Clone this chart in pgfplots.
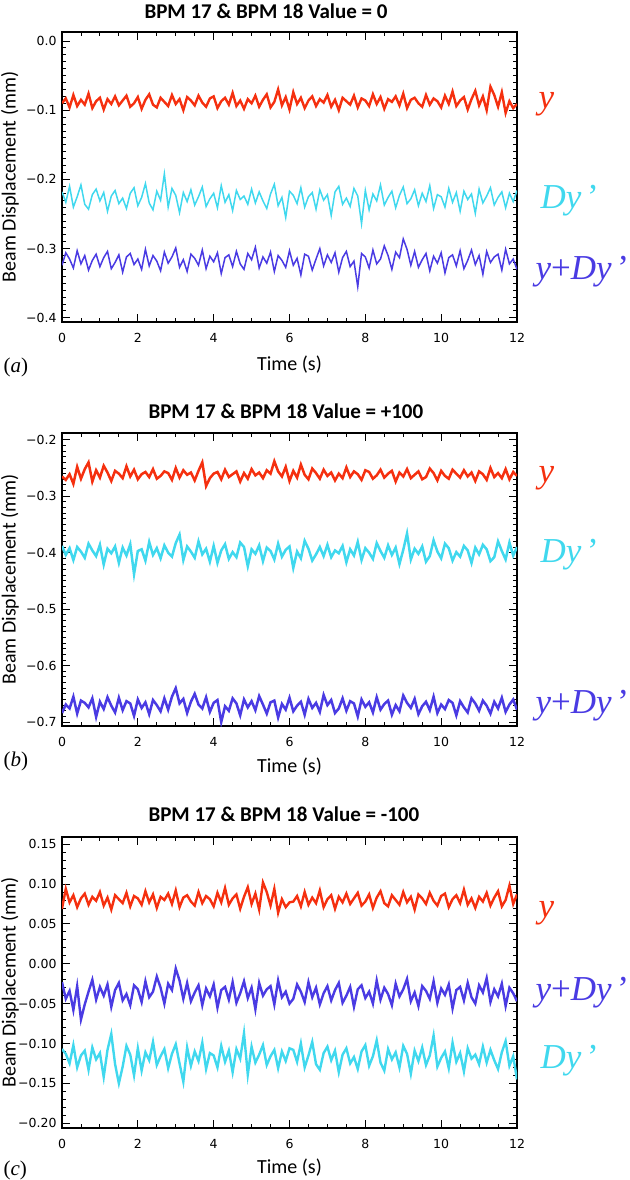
\documentclass[border=0pt]{standalone}
\usepackage{pgfplots}
\pgfplotsset{compat=1.18}
\usepackage{pgfplotstable}
\usepackage{fontspec}
\setmainfont{Liberation Serif}
\newfontfamily\tickfont{DejaVu Sans}
\newfontfamily\calfont{Carlito}
\definecolor{cred}{HTML}{F5300F}
\definecolor{ccyan}{HTML}{40D8EE}
\definecolor{cblue}{HTML}{4A3BE3}

\pgfplotstableread{
t y dy ydy
0.0 -0.090 -0.218 -0.324
0.1 -0.083 -0.233 -0.306
0.2 -0.096 -0.210 -0.315
0.3 -0.078 -0.240 -0.328
0.4 -0.094 -0.225 -0.303
0.5 -0.085 -0.208 -0.322
0.6 -0.092 -0.236 -0.310
0.7 -0.076 -0.243 -0.331
0.8 -0.097 -0.222 -0.317
0.9 -0.087 -0.214 -0.308
1.0 -0.082 -0.231 -0.326
1.1 -0.099 -0.219 -0.313
1.2 -0.084 -0.246 -0.304
1.3 -0.091 -0.224 -0.329
1.4 -0.080 -0.216 -0.320
1.5 -0.093 -0.235 -0.309
1.6 -0.086 -0.227 -0.334
1.7 -0.079 -0.242 -0.312
1.8 -0.095 -0.220 -0.307
1.9 -0.090 -0.212 -0.323
2.0 -0.081 -0.238 -0.315
2.1 -0.098 -0.226 -0.330
2.2 -0.085 -0.206 -0.301
2.3 -0.077 -0.234 -0.325
2.4 -0.092 -0.244 -0.310
2.5 -0.096 -0.217 -0.318
2.6 -0.082 -0.230 -0.332
2.7 -0.088 -0.192 -0.305
2.8 -0.094 -0.240 -0.321
2.9 -0.078 -0.213 -0.312
3.0 -0.091 -0.223 -0.299
3.1 -0.084 -0.248 -0.327
3.2 -0.100 -0.219 -0.316
3.3 -0.081 -0.232 -0.333
3.4 -0.086 -0.215 -0.308
3.5 -0.093 -0.237 -0.314
3.6 -0.079 -0.225 -0.324
3.7 -0.089 -0.211 -0.302
3.8 -0.095 -0.239 -0.329
3.9 -0.083 -0.228 -0.311
4.0 -0.080 -0.220 -0.319
4.1 -0.097 -0.241 -0.306
4.2 -0.087 -0.209 -0.336
4.3 -0.082 -0.233 -0.313
4.4 -0.092 -0.222 -0.309
4.5 -0.075 -0.245 -0.326
4.6 -0.094 -0.216 -0.304
4.7 -0.086 -0.229 -0.322
4.8 -0.098 -0.224 -0.330
4.9 -0.084 -0.236 -0.307
5.0 -0.090 -0.214 -0.316
5.1 -0.079 -0.234 -0.298
5.2 -0.095 -0.218 -0.328
5.3 -0.085 -0.231 -0.312
5.4 -0.077 -0.242 -0.321
5.5 -0.096 -0.221 -0.305
5.6 -0.088 -0.207 -0.333
5.7 -0.070 -0.238 -0.310
5.8 -0.093 -0.226 -0.317
5.9 -0.081 -0.255 -0.327
6.0 -0.099 -0.217 -0.303
6.1 -0.074 -0.223 -0.324
6.2 -0.091 -0.235 -0.314
6.3 -0.082 -0.212 -0.338
6.4 -0.097 -0.240 -0.308
6.5 -0.086 -0.225 -0.311
6.6 -0.080 -0.219 -0.331
6.7 -0.094 -0.243 -0.315
6.8 -0.084 -0.215 -0.300
6.9 -0.089 -0.230 -0.325
7.0 -0.078 -0.222 -0.309
7.1 -0.095 -0.252 -0.320
7.2 -0.085 -0.218 -0.306
7.3 -0.100 -0.210 -0.334
7.4 -0.082 -0.236 -0.313
7.5 -0.087 -0.227 -0.304
7.6 -0.092 -0.239 -0.326
7.7 -0.079 -0.213 -0.318
7.8 -0.096 -0.224 -0.355
7.9 -0.083 -0.264 -0.307
8.0 -0.086 -0.216 -0.312
8.1 -0.094 -0.244 -0.328
8.2 -0.077 -0.221 -0.302
8.3 -0.091 -0.231 -0.322
8.4 -0.081 -0.208 -0.315
8.5 -0.098 -0.237 -0.296
8.6 -0.084 -0.226 -0.310
8.7 -0.088 -0.217 -0.330
8.8 -0.080 -0.241 -0.305
8.9 -0.093 -0.223 -0.313
9.0 -0.076 -0.211 -0.286
9.1 -0.097 -0.235 -0.301
9.2 -0.085 -0.228 -0.324
9.3 -0.082 -0.215 -0.304
9.4 -0.090 -0.238 -0.327
9.5 -0.095 -0.220 -0.316
9.6 -0.078 -0.232 -0.307
9.7 -0.092 -0.209 -0.332
9.8 -0.083 -0.242 -0.311
9.9 -0.087 -0.222 -0.321
10.0 -0.096 -0.225 -0.306
10.1 -0.079 -0.240 -0.335
10.2 -0.091 -0.213 -0.313
10.3 -0.073 -0.233 -0.309
10.4 -0.094 -0.219 -0.325
10.5 -0.086 -0.246 -0.303
10.6 -0.081 -0.217 -0.329
10.7 -0.099 -0.229 -0.317
10.8 -0.084 -0.221 -0.302
10.9 -0.072 -0.249 -0.323
11.0 -0.093 -0.214 -0.310
11.1 -0.080 -0.234 -0.337
11.2 -0.100 -0.224 -0.304
11.3 -0.066 -0.212 -0.320
11.4 -0.078 -0.237 -0.312
11.5 -0.095 -0.226 -0.308
11.6 -0.074 -0.218 -0.331
11.7 -0.104 -0.241 -0.301
11.8 -0.087 -0.220 -0.322
11.9 -0.097 -0.232 -0.315
12.0 -0.091 -0.216 -0.330
}\tabA

\pgfplotstableread{
t y dy ydy
0.0 -0.265 -0.388 -0.684
0.1 -0.271 -0.404 -0.669
0.2 -0.261 -0.392 -0.676
0.3 -0.278 -0.413 -0.655
0.4 -0.248 -0.390 -0.685
0.5 -0.269 -0.398 -0.662
0.6 -0.252 -0.409 -0.666
0.7 -0.240 -0.384 -0.674
0.8 -0.274 -0.396 -0.658
0.9 -0.254 -0.406 -0.691
1.0 -0.267 -0.386 -0.664
1.1 -0.246 -0.421 -0.677
1.2 -0.258 -0.393 -0.656
1.3 -0.273 -0.401 -0.671
1.4 -0.255 -0.389 -0.683
1.5 -0.260 -0.418 -0.657
1.6 -0.268 -0.391 -0.679
1.7 -0.247 -0.405 -0.663
1.8 -0.265 -0.385 -0.667
1.9 -0.253 -0.438 -0.689
2.0 -0.270 -0.397 -0.660
2.1 -0.261 -0.394 -0.675
2.2 -0.257 -0.414 -0.665
2.3 -0.266 -0.381 -0.686
2.4 -0.252 -0.404 -0.661
2.5 -0.269 -0.392 -0.670
2.6 -0.264 -0.410 -0.681
2.7 -0.256 -0.387 -0.658
2.8 -0.259 -0.400 -0.678
2.9 -0.271 -0.407 -0.655
3.0 -0.250 -0.383 -0.640
3.1 -0.267 -0.368 -0.667
3.2 -0.254 -0.413 -0.659
3.3 -0.262 -0.389 -0.684
3.4 -0.258 -0.398 -0.664
3.5 -0.272 -0.409 -0.650
3.6 -0.255 -0.380 -0.669
3.7 -0.240 -0.403 -0.676
3.8 -0.282 -0.393 -0.656
3.9 -0.268 -0.416 -0.682
4.0 -0.260 -0.388 -0.666
4.1 -0.257 -0.418 -0.661
4.2 -0.270 -0.396 -0.700
4.3 -0.253 -0.385 -0.672
4.4 -0.266 -0.411 -0.680
4.5 -0.261 -0.399 -0.658
4.6 -0.256 -0.408 -0.667
4.7 -0.274 -0.382 -0.688
4.8 -0.259 -0.390 -0.660
4.9 -0.269 -0.424 -0.674
5.0 -0.252 -0.394 -0.663
5.1 -0.263 -0.402 -0.679
5.2 -0.258 -0.387 -0.654
5.3 -0.268 -0.415 -0.669
5.4 -0.254 -0.391 -0.685
5.5 -0.260 -0.397 -0.665
5.6 -0.238 -0.412 -0.662
5.7 -0.256 -0.384 -0.692
5.8 -0.265 -0.407 -0.668
5.9 -0.248 -0.395 -0.678
6.0 -0.273 -0.389 -0.657
6.1 -0.255 -0.427 -0.681
6.2 -0.267 -0.398 -0.671
6.3 -0.244 -0.410 -0.664
6.4 -0.262 -0.379 -0.687
6.5 -0.270 -0.393 -0.659
6.6 -0.251 -0.414 -0.675
6.7 -0.259 -0.403 -0.666
6.8 -0.269 -0.390 -0.682
6.9 -0.253 -0.406 -0.652
7.0 -0.264 -0.386 -0.670
7.1 -0.258 -0.408 -0.661
7.2 -0.272 -0.396 -0.684
7.3 -0.260 -0.401 -0.676
7.4 -0.268 -0.388 -0.658
7.5 -0.249 -0.417 -0.680
7.6 -0.266 -0.394 -0.663
7.7 -0.256 -0.405 -0.667
7.8 -0.261 -0.381 -0.690
7.9 -0.271 -0.413 -0.660
8.0 -0.254 -0.392 -0.673
8.1 -0.257 -0.400 -0.665
8.2 -0.269 -0.411 -0.683
8.3 -0.263 -0.383 -0.656
8.4 -0.253 -0.397 -0.678
8.5 -0.267 -0.409 -0.668
8.6 -0.260 -0.387 -0.662
8.7 -0.255 -0.404 -0.687
8.8 -0.274 -0.391 -0.670
8.9 -0.258 -0.420 -0.681
9.0 -0.265 -0.395 -0.653
9.1 -0.252 -0.366 -0.666
9.2 -0.268 -0.412 -0.675
9.3 -0.262 -0.393 -0.659
9.4 -0.256 -0.402 -0.686
9.5 -0.270 -0.389 -0.672
9.6 -0.266 -0.416 -0.664
9.7 -0.251 -0.406 -0.679
9.8 -0.259 -0.378 -0.655
9.9 -0.272 -0.398 -0.684
10.0 -0.255 -0.410 -0.669
10.1 -0.264 -0.384 -0.677
10.2 -0.269 -0.392 -0.661
10.3 -0.253 -0.414 -0.666
10.4 -0.260 -0.399 -0.688
10.5 -0.267 -0.407 -0.663
10.6 -0.254 -0.388 -0.674
10.7 -0.265 -0.396 -0.683
10.8 -0.258 -0.418 -0.658
10.9 -0.273 -0.391 -0.667
11.0 -0.256 -0.403 -0.680
11.1 -0.261 -0.386 -0.662
11.2 -0.271 -0.394 -0.671
11.3 -0.250 -0.415 -0.685
11.4 -0.266 -0.408 -0.664
11.5 -0.259 -0.380 -0.676
11.6 -0.268 -0.397 -0.657
11.7 -0.252 -0.412 -0.682
11.8 -0.270 -0.382 -0.669
11.9 -0.257 -0.405 -0.660
12.0 -0.264 -0.390 -0.678
}\tabB

\pgfplotstableread{
t y dy ydy
0.0 0.069 -0.107 -0.023
0.1 0.094 -0.113 -0.044
0.2 0.077 -0.125 -0.034
0.3 0.086 -0.102 -0.058
0.4 0.071 -0.130 -0.028
0.5 0.082 -0.115 -0.070
0.6 0.088 -0.109 -0.051
0.7 0.074 -0.133 -0.035
0.8 0.084 -0.105 -0.020
0.9 0.079 -0.120 -0.045
1.0 0.090 -0.112 -0.029
1.1 0.073 -0.142 -0.040
1.2 0.083 -0.108 -0.026
1.3 0.068 -0.088 -0.054
1.4 0.086 -0.126 -0.033
1.5 0.081 -0.150 -0.024
1.6 0.076 -0.129 -0.046
1.7 0.089 -0.103 -0.038
1.8 0.072 -0.114 -0.052
1.9 0.085 -0.140 -0.027
2.0 0.082 -0.106 -0.032
2.1 0.074 -0.134 -0.048
2.2 0.091 -0.111 -0.022
2.3 0.077 -0.121 -0.042
2.4 0.087 -0.098 -0.035
2.5 0.070 -0.127 -0.016
2.6 0.084 -0.116 -0.030
2.7 0.080 -0.107 -0.050
2.8 0.088 -0.131 -0.025
2.9 0.075 -0.113 -0.033
3.0 0.092 -0.101 -0.006
3.1 0.071 -0.125 -0.021
3.2 0.083 -0.148 -0.044
3.3 0.086 -0.105 -0.024
3.4 0.078 -0.128 -0.047
3.5 0.073 -0.110 -0.036
3.6 0.090 -0.122 -0.027
3.7 0.076 -0.099 -0.052
3.8 0.085 -0.132 -0.031
3.9 0.081 -0.112 -0.041
4.0 0.072 -0.115 -0.026
4.1 0.089 -0.130 -0.055
4.2 0.077 -0.103 -0.033
4.3 0.095 -0.123 -0.029
4.4 0.074 -0.109 -0.045
4.5 0.082 -0.136 -0.023
4.6 0.087 -0.107 -0.049
4.7 0.069 -0.119 -0.037
4.8 0.084 -0.087 -0.022
4.9 0.096 -0.139 -0.043
5.0 0.075 -0.104 -0.030
5.1 0.088 -0.124 -0.057
5.2 0.068 -0.114 -0.024
5.3 0.102 -0.102 -0.040
5.4 0.090 -0.127 -0.032
5.5 0.073 -0.116 -0.028
5.6 0.094 -0.108 -0.051
5.7 0.064 -0.131 -0.021
5.8 0.081 -0.110 -0.042
5.9 0.071 -0.122 -0.035
6.0 0.077 -0.106 -0.050
6.1 0.078 -0.108 -0.044
6.2 0.085 -0.123 -0.026
6.3 0.072 -0.100 -0.035
6.4 0.090 -0.130 -0.048
6.5 0.074 -0.115 -0.023
6.6 0.083 -0.098 -0.042
6.7 0.076 -0.126 -0.030
6.8 0.092 -0.133 -0.051
6.9 0.071 -0.112 -0.037
7.0 0.081 -0.104 -0.028
7.1 0.086 -0.121 -0.046
7.2 0.069 -0.109 -0.033
7.3 0.084 -0.136 -0.024
7.4 0.077 -0.114 -0.049
7.5 0.088 -0.106 -0.040
7.6 0.075 -0.125 -0.029
7.7 0.082 -0.117 -0.054
7.8 0.089 -0.132 -0.032
7.9 0.073 -0.110 -0.027
8.0 0.078 -0.102 -0.043
8.1 0.087 -0.128 -0.035
8.2 0.070 -0.116 -0.050
8.3 0.083 -0.096 -0.021
8.4 0.091 -0.124 -0.045
8.5 0.076 -0.134 -0.030
8.6 0.072 -0.107 -0.038
8.7 0.086 -0.120 -0.052
8.8 0.080 -0.111 -0.025
8.9 0.074 -0.130 -0.041
9.0 0.090 -0.103 -0.032
9.1 0.077 -0.113 -0.019
9.2 0.084 -0.138 -0.047
9.3 0.068 -0.109 -0.036
9.4 0.087 -0.122 -0.053
9.5 0.082 -0.105 -0.028
9.6 0.075 -0.127 -0.034
9.7 0.089 -0.115 -0.044
9.8 0.079 -0.090 -0.022
9.9 0.073 -0.129 -0.049
10.0 0.085 -0.118 -0.031
10.1 0.088 -0.110 -0.039
10.2 0.071 -0.131 -0.026
10.3 0.081 -0.099 -0.056
10.4 0.086 -0.123 -0.033
10.5 0.076 -0.112 -0.029
10.6 0.093 -0.135 -0.046
10.7 0.074 -0.106 -0.024
10.8 0.082 -0.119 -0.042
10.9 0.070 -0.114 -0.050
11.0 0.084 -0.126 -0.027
11.1 0.078 -0.104 -0.036
11.2 0.089 -0.124 -0.018
11.3 0.073 -0.108 -0.048
11.4 0.083 -0.121 -0.032
11.5 0.091 -0.132 -0.041
11.6 0.072 -0.111 -0.025
11.7 0.080 -0.097 -0.053
11.8 0.098 -0.128 -0.030
11.9 0.075 -0.116 -0.037
12.0 0.087 -0.145 -0.047
}\tabC

\pgfplotsset{
  bpm/.style={
    scale only axis, width=455bp,
    xmin=0, xmax=12,
    xtick={0,2,4,6,8,10,12},
    xticklabels={0,2,4,6,8,10,12},
    minor x tick num=3,
    tick align=inside,
    xtick pos=both, ytick pos=both,
    major tick length=8bp, minor tick length=4bp,
    axis line style={line width=1.3bp},
    every tick/.style={black, line width=0.9bp},
    tick label style={font=\tickfont\fontsize{12.5bp}{14bp}\selectfont},
    xticklabel style={yshift=-8bp},
    yticklabel style={xshift=-2bp},
  }
}

\newcommand{\ttl}{\calfont\bfseries\fontsize{21bp}{24bp}\selectfont}
\newcommand{\lbl}{\calfont\fontsize{20bp}{22bp}\selectfont}
\newcommand{\ser}{\fontsize{35bp}{38bp}\selectfont}
\newcommand{\pan}{\fontsize{21bp}{24bp}\selectfont}

\begin{document}
\begin{tikzpicture}
\useasboundingbox (0,0) rectangle (630bp,-1180bp);

% ---------------- panel (a)
\begin{axis}[bpm, at={(62bp,-322bp)}, anchor=south west, height=290bp,
  ymin=-0.406, ymax=0.013,
  ytick={-0.4,-0.3,-0.2,-0.1,0},
  yticklabels={−0.4,−0.3,−0.2,−0.1,0.0},
  minor y tick num=9]
\addplot[cred, line width=2.4bp] table[x=t,y=y]{\tabA};
\addplot[ccyan, line width=1.5bp] table[x=t,y=dy]{\tabA};
\addplot[cblue, line width=1.5bp] table[x=t,y=ydy]{\tabA};
\end{axis}
\node[anchor=west, font=\ttl] at (141bp,-11bp) {BPM 17 \& BPM 18 Value = 0};
\node[rotate=90, font=\lbl] at (10bp,-177bp) {Beam Displacement (mm)};
\node[font=\lbl] at (289.5bp,-365bp) {Time (s)};
\node[anchor=west, font=\pan] at (0bp,-367bp) {(\textit{a})};
\node[anchor=base west, font=\ser, text=cred] at (535bp,-108bp) {\textit{y}};
\node[anchor=base west, font=\ser, text=ccyan] at (537bp,-208bp) {\textit{Dy}\,'};
\node[anchor=base west, font=\ser, text=cblue] at (532bp,-279bp) {\textit{y}+\textit{Dy}\,'};

% ---------------- panel (b)
\begin{axis}[bpm, at={(62bp,-726bp)}, anchor=south west, height=293bp,
  ymin=-0.707, ymax=-0.188,
  ytick={-0.7,-0.6,-0.5,-0.4,-0.3,-0.2},
  yticklabels={−0.7,−0.6,−0.5,−0.4,−0.3,−0.2},
  minor y tick num=9]
\addplot[cred, line width=2.5bp] table[x=t,y=y]{\tabB};
\addplot[ccyan, line width=2.5bp] table[x=t,y=dy]{\tabB};
\addplot[cblue, line width=2.5bp] table[x=t,y=ydy]{\tabB};
\end{axis}
\node[anchor=west, font=\ttl] at (145bp,-411bp) {BPM 17 \& BPM 18 Value = +100};
\node[rotate=90, font=\lbl] at (10bp,-579.5bp) {Beam Displacement (mm)};
\node[font=\lbl] at (289.5bp,-767bp) {Time (s)};
\node[anchor=west, font=\pan] at (0bp,-761bp) {(\textit{b})};
\node[anchor=base west, font=\ser, text=cred] at (535bp,-482bp) {\textit{y}};
\node[anchor=base west, font=\ser, text=ccyan] at (537bp,-562bp) {\textit{Dy}\,'};
\node[anchor=base west, font=\ser, text=cblue] at (532bp,-713bp) {\textit{y}+\textit{Dy}\,'};

% ---------------- panel (c)
\begin{axis}[bpm, at={(62bp,-1128bp)}, anchor=south west, height=291bp,
  ymin=-0.206, ymax=0.159,
  ytick={-0.2,-0.15,-0.1,-0.05,0,0.05,0.1,0.15},
  yticklabels={−0.20,−0.15,−0.10,−0.05,0.00,0.05,0.10,0.15},
  minor y tick num=4]
\addplot[cred, line width=2.4bp] table[x=t,y=y]{\tabC};
\addplot[ccyan, line width=2.4bp] table[x=t,y=dy]{\tabC};
\addplot[cblue, line width=2.4bp] table[x=t,y=ydy]{\tabC};
\end{axis}
\node[anchor=west, font=\ttl] at (145bp,-814bp) {BPM 17 \& BPM 18 Value = -100};
\node[rotate=90, font=\lbl] at (10bp,-982.5bp) {Beam Displacement (mm)};
\node[font=\lbl] at (289.5bp,-1168bp) {Time (s)};
\node[anchor=west, font=\pan] at (0bp,-1170bp) {(\textit{c})};
\node[anchor=base west, font=\ser, text=cred] at (535bp,-917bp) {\textit{y}};
\node[anchor=base west, font=\ser, text=cblue] at (532bp,-1000bp) {\textit{y}+\textit{Dy}\,'};
\node[anchor=base west, font=\ser, text=ccyan] at (537bp,-1068bp) {\textit{Dy}\,'};
\end{tikzpicture}
\end{document}
